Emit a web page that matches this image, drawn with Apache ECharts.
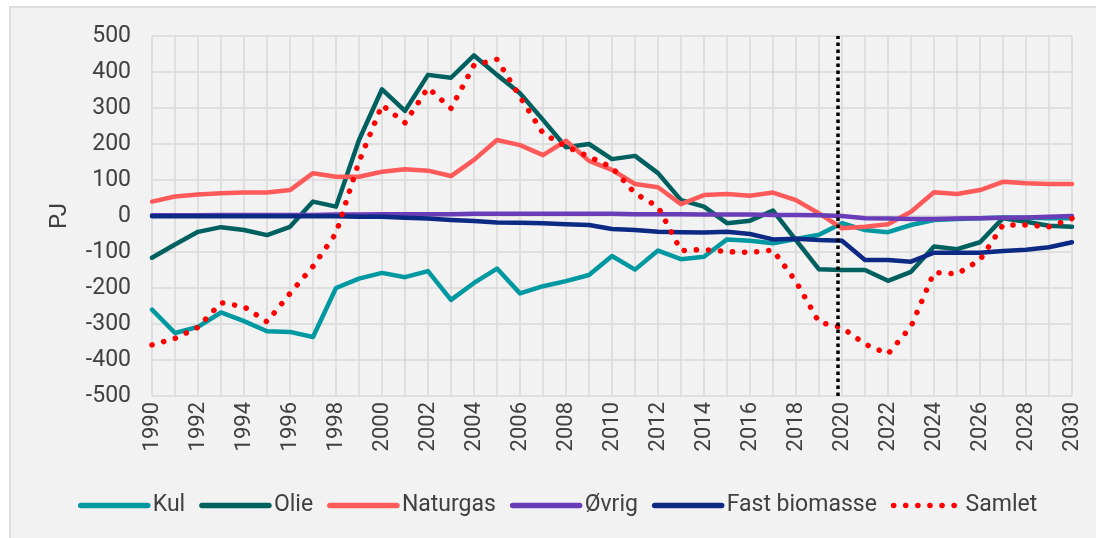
<!DOCTYPE html>
<html>
<head>
<meta charset="utf-8">
<script src="https://cdn.jsdelivr.net/npm/echarts@6/dist/echarts.min.js"></script>
<style>
  body { margin: 0; background: #ffffff; }
  .frame {
    position: absolute; left: 9px; top: 6px; width: 1100px; height: 540px;
    background: #f2f2f2; border-top: 2px solid #dedede; border-left: 2px solid #dedede;
  }
  #chart { position: absolute; left: 0; top: 0; width: 1096px; height: 538px; }
</style>
</head>
<body>
<div class="frame"></div>
<div id="chart"></div>
<script>
// år 1990-2030
var years = [];
for (var y = 1990; y <= 2030; y++) years.push(String(y));

var kul = [-260, -325, -308, -268, -292, -320, -322, -336, -200, -174,
  -158, -170, -153, -233, -186, -146, -215, -195, -181, -164,
  -111, -149, -96, -120, -113, -65, -69, -76, -64, -52,
  -20, -39, -45, -25, -11, -8, -6, -4, -5, -6, -6];

var olie = [-116, -79, -44, -31, -39, -53, -30, 40, 26, 211,
  352, 292, 392, 384, 446, 392, 341, 267, 191, 200,
  158, 167, 119, 44, 26, -20, -13, 15, -67, -148,
  -150, -150, -180, -155, -85, -92, -73, -6, -16, -27, -30];

var naturgas = [40, 54, 60, 63, 65, 65, 72, 119, 109, 109,
  123, 130, 126, 111, 156, 211, 197, 169, 209, 153,
  128, 89, 80, 33, 58, 61, 56, 65, 44, 7,
  -34, -30, -23, 12, 66, 61, 72, 95, 91, 89, 89];

var oevrig = [2, 2, 2, 3, 3, 3, 3, 3, 4, 4,
  5, 5, 5, 5, 6, 6, 6, 6, 6, 6,
  6, 5, 5, 5, 4, 4, 4, 3, 3, 2,
  0, -6, -7, -8, -8, -7, -6, -5, -4, -2, 0];

var biomasse = [-1, -1, -1, -1, -1, -1, -1, -1, -1, -2,
  -2, -5, -7, -11, -14, -18, -19, -20, -23, -25,
  -36, -39, -44, -45, -46, -44, -50, -65, -63, -67,
  -69, -122, -122, -127, -102, -102, -102, -97, -94, -87, -73];

var samlet = [-358, -340, -309, -241, -252, -294, -215, -140, -48, 151,
  308, 259, 356, 299, 419, 435, 331, 230, 193, 165,
  135, 63, 26, -96, -93, -99, -101, -95, -182, -295,
  -310, -356, -383, -307, -157, -161, -122, -25, -25, -30, -7];

// skillelinje mellem historik og fremskrivning
var skilleAar = 2019.8;

var txt = '#404040';
var gridCol = '#d9d9d9';
var font = 'Roboto';

function linje(navn, data, farve) {
  return {
    name: navn, type: 'line', data: data, symbol: 'none',
    lineStyle: { color: farve, width: 4.5, cap: 'round', join: 'round' },
    itemStyle: { color: farve }
  };
}

var chart = echarts.init(document.getElementById('chart'));
var samletSerie = linje('Samlet', samlet, '#ff0000');
samletSerie.lineStyle = { color: '#ff0000', width: 5.5, type: [0.1, 12], cap: 'round' };
samletSerie.z = 3;

chart.setOption({
  animation: false,
  backgroundColor: 'transparent',
  textStyle: { fontFamily: font },
  grid: { left: 152, top: 36, width: 920, height: 360 },
  xAxis: [{
    type: 'category', data: years, boundaryGap: false,
    axisLine: { show: false }, axisTick: { show: false },
    axisLabel: { interval: 1, rotate: 90, margin: 6, color: txt, fontSize: 22, fontFamily: font },
    splitLine: { show: true, interval: 0, lineStyle: { color: gridCol, width: 1.5 } }
  }, {
    type: 'value', min: 1990, max: 2030, show: false
  }],
  yAxis: {
    type: 'value', min: -500, max: 500, interval: 100,
    name: 'PJ', nameLocation: 'middle', nameGap: 80,
    nameTextStyle: { color: txt, fontSize: 24, fontFamily: font },
    axisLine: { show: false }, axisTick: { show: false },
    axisLabel: { margin: 21, color: txt, fontSize: 23, fontFamily: font },
    splitLine: { show: true, lineStyle: { color: gridCol, width: 1.5 } }
  },
  legend: {
    left: 73, top: 489, itemWidth: 67, itemHeight: 14, itemGap: 14,
    itemStyle: { opacity: 0 },
    lineStyle: { width: 5.5, cap: 'round' },
    textStyle: { color: txt, fontSize: 23, fontFamily: font },
    data: ['Kul', 'Olie', 'Naturgas', 'Øvrig', 'Fast biomasse', 'Samlet']
  },
  series: [
    linje('Kul', kul, '#0099a1'),
    linje('Olie', olie, '#00605f'),
    linje('Naturgas', naturgas, '#ff5a5a'),
    linje('Øvrig', oevrig, '#6a3db8'),
    linje('Fast biomasse', biomasse, '#0c2a84'),
    samletSerie,
    {
      name: 'skille', type: 'line', xAxisIndex: 1, data: [], z: 5,
      markLine: {
        silent: true, symbol: 'none', label: { show: false },
        lineStyle: { color: '#000000', width: 3.5, type: [3.5, 3.5] },
        data: [{ xAxis: skilleAar }]
      }
    }
  ]
});
</script>
</body>
</html>
